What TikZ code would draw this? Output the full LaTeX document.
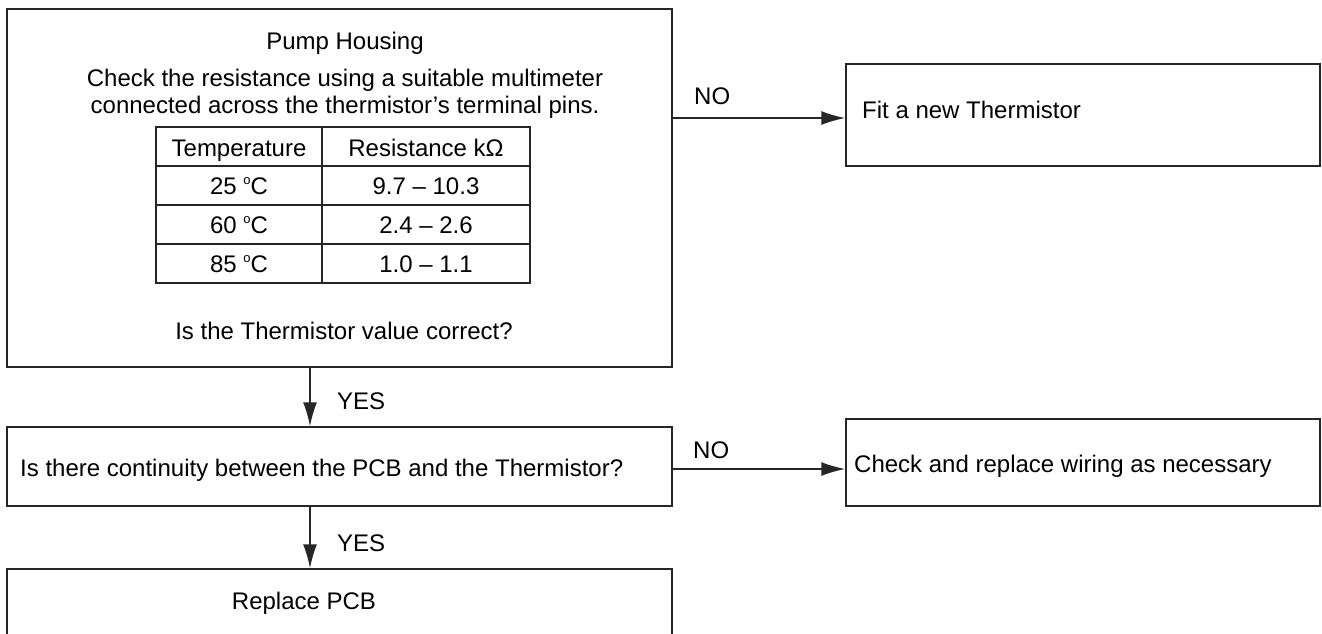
\documentclass[tikz,border=0pt]{standalone}
\usepackage{fontspec}
\setmainfont{Liberation Sans}
\usetikzlibrary{arrows.meta}
\newcommand{\dego}{\ \raisebox{9.5pt}{\fontsize{13}{13}\selectfont o}}
\begin{document}
\begin{tikzpicture}[x=1pt,y=-1pt,
  font=\fontsize{24}{28}\selectfont,
  boxst/.style={draw=black!85, line width=1.5pt, inner sep=0pt},
  cellst/.style={draw=black!85, line width=1.5pt, inner sep=0pt, minimum height=39pt},
  arr/.style={draw=black!85, line width=1.5pt, -{Latex[length=24pt,width=14pt]}},
  lbl/.style={inner sep=0pt, anchor=base west},
  ctr/.style={inner sep=0pt, anchor=base}]
\clip (0,0) rectangle (1322,633);
\fill[white] (0,0) rectangle (1322,633);

% boxes
\node[boxst, minimum width=665pt, minimum height=358pt] (main) at (339.5,188) {};
\node[boxst, minimum width=474pt, minimum height=102pt] (fit) at (1083,115) {};
\node[boxst, minimum width=665pt, minimum height=79pt] (q2) at (339.5,466.5) {};
\node[boxst, minimum width=474pt, minimum height=87pt] (wire) at (1083,462.5) {};
\node[boxst, minimum width=665pt, minimum height=120pt] (pcb) at (339.5,629) {};

% texts in main box
\node[ctr] (t1) at (345,49) {Pump Housing};
\node[ctr] (t2) at (345,86) {Check the resistance using a suitable multimeter};
\node[ctr] (t3) at (345,113) {connected across the thermistor’s terminal pins.};
\node[ctr] (t4) at (344,339) {Is the Thermistor value correct?};

% table
\node[cellst, minimum width=166pt] (h1) at (239,146.5) {};
\node[cellst, minimum width=208pt] (h2) at (426,146.5) {};
\node[cellst, minimum width=166pt] (a1) at (239,185.5) {};
\node[cellst, minimum width=208pt] (a2) at (426,185.5) {};
\node[cellst, minimum width=166pt] (b1) at (239,224.5) {};
\node[cellst, minimum width=208pt] (b2) at (426,224.5) {};
\node[cellst, minimum width=166pt] (c1) at (239,263.5) {};
\node[cellst, minimum width=208pt] (c2) at (426,263.5) {};
\node[ctr] at (239,156) {Temperature};
\node[ctr] at (426,156) {Resistance k\symbol{"03A9}};
\node[ctr] at (239,194) {25\dego C};
\node[ctr] at (426,194) {9.7 – 10.3};
\node[ctr] at (239,233) {60\dego C};
\node[ctr] at (426,233) {2.4 – 2.6};
\node[ctr] at (239,272) {85\dego C};
\node[ctr] at (426,272) {1.0 – 1.1};

% other texts
\node[lbl] (tfit) at (862,118) {Fit a new Thermistor};
\node[lbl] (tq2) at (20,476) {Is there continuity between the PCB and the Thermistor?};
\node[lbl] (twire) at (854,472) {Check and replace wiring as necessary};
\node[ctr] (tpcb) at (304,609) {Replace PCB};

% connectors
\coordinate (v1) at (310,0);
\coordinate (h1y) at (0,118);
\coordinate (h2y) at (0,469);
\draw[arr] (main.south -| v1) -- (q2.north -| v1);
\draw[arr] (q2.south -| v1) -- (pcb.north -| v1);
\draw[arr] (main.east |- h1y) -- (fit.west |- h1y);
\draw[arr] (q2.east |- h2y) -- (wire.west |- h2y);

% labels
\node[lbl] (no1) at (694,104) {NO};
\node[lbl] (no2) at (693,458) {NO};
\node[lbl] (yes1) at (337,409) {YES};
\node[lbl] (yes2) at (337,551) {YES};
\end{tikzpicture}
\end{document}
